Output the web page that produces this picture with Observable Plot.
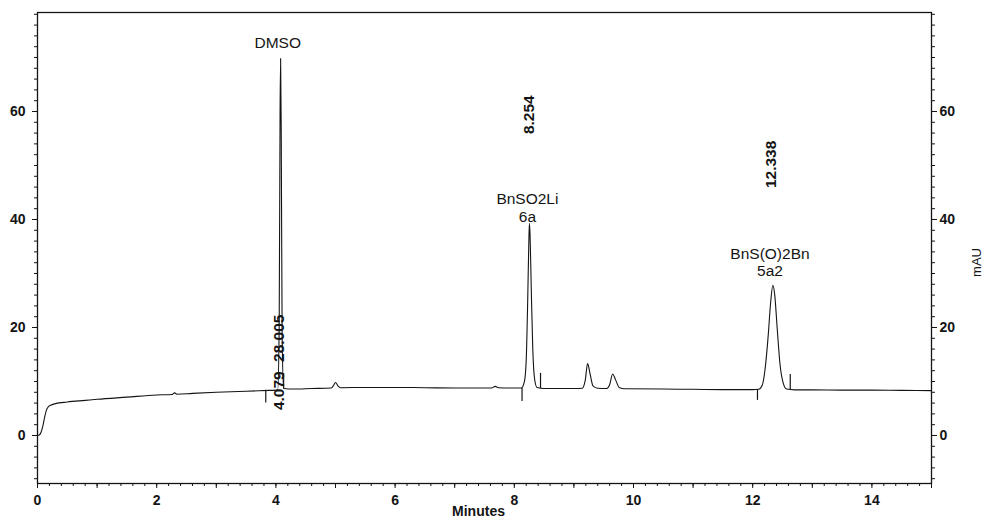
<!DOCTYPE html>
<html><head><meta charset="utf-8">
<script src="https://cdn.jsdelivr.net/npm/d3@7"></script>
<script src="https://cdn.jsdelivr.net/npm/@observablehq/plot@0.6"></script>
<style>
html,body{margin:0;padding:0;background:#fff;}
#chart{width:984px;height:521px;overflow:hidden;}
</style></head><body><div id="chart"></div>
<script>
// Chromatogram trace: time (min) and signal (mAU)
const traceTime = [0,0.03,0.06,0.09,0.12,0.15,0.18,0.22,0.3,0.5,0.8,1.0,1.5,2.0,2.26,2.3,2.34,2.6,3.0,3.5,3.9,
  4.03,4.055,4.07,4.079,4.09,4.105,4.13,4.3,4.6,4.93,4.97,5.0,5.04,5.08,5.5,6.0,6.5,7.0,7.62,7.68,7.73,8.0,
  8.12,8.17,8.2,8.225,8.245,8.254,8.265,8.285,8.31,8.34,8.38,8.5,9.0,9.14,9.19,9.23,9.27,9.32,9.4,9.55,9.6,9.65,9.7,9.76,9.85,
  10.5,11.0,11.5,12.0,12.1,12.16,12.21,12.26,12.30,12.338,12.37,12.41,12.46,12.51,12.57,12.7,13.0,13.5,14.0,14.5,15.0];
const traceMAU = [0.0,0.1,0.6,1.8,3.4,4.7,5.3,5.6,5.9,6.2,6.5,6.7,7.1,7.5,7.6,7.9,7.65,7.8,8.0,8.2,8.35,
  8.4,20,60,69.8,55,18,8.7,8.6,8.7,8.8,9.3,9.8,9.2,8.85,8.9,8.9,8.85,8.8,8.8,9.1,8.85,8.8,
  8.8,10.0,14,25,36.5,39.3,37,27,16,10.5,8.9,8.7,8.7,8.75,10.2,13.3,11.5,9.2,8.75,8.7,9.4,11.4,10.3,8.9,8.65,
  8.6,8.55,8.5,8.5,8.55,9.3,12.5,18.5,24.5,27.8,26,20,13,9.8,8.6,8.45,8.45,8.4,8.4,8.35,8.3];

// Integration start/end markers
const markTime = [3.83, 4.13, 8.13, 8.44, 12.08, 12.63];
const markFrom = [8.4, 8.6, 8.8, 8.7, 8.5, 8.45];
const markTo   = [6.0, 11.5, 6.3, 11.5, 6.5, 11.3];

// Retention-time labels (rotated)
const rtText = ["4.079", "28.005", "8.254", "12.338"];
const rtTime = [4.05, 4.06, 8.254, 12.30];
const rtY    = [8.3, 18.0, 59.4, 50.2];

// Compound labels
const nameText = ["DMSO", "BnSO2Li\n6a", "BnS(O)2Bn\n5a2"];
const nameTime = [4.03, 8.22, 12.29];
const nameY    = [72.8, 42.2, 32.17];

// Axis ticks
const xMajor = [0, 2, 4, 6, 8, 10, 12, 14];
const xMid = [1, 3, 5, 7, 9, 11, 13, 15];
const xMinor = d3.range(0, 76).map(i => i / 5);
const yMajor = [0, 20, 40, 60];
const yMinor = d3.range(-8, 79, 2);

const trace = traceTime.map((t, i) => ({t, v: traceMAU[i]}));
const marks = markTime.map((t, i) => ({t, y1: markFrom[i], y2: markTo[i]}));
const rts = rtText.map((s, i) => ({s, t: rtTime[i], y: rtY[i]}));
const names = nameText.map((s, i) => ({s, t: nameTime[i], y: nameY[i]}));

const ink = "#141414";
const chart = Plot.plot({
  width: 984, height: 521,
  marginLeft: 37, marginRight: 53, marginTop: 12, marginBottom: 38,
  style: {fontFamily: "'Liberation Sans', Arial, sans-serif", background: "#fff", color: ink},
  x: {domain: [0, 15]},
  y: {domain: [-8.89, 78.33]},
  marks: [
    Plot.frame({stroke: ink, strokeWidth: 1.3}),
    // left axis
    Plot.axisY(yMinor, {anchor: "left", tickSize: 3, tickFormat: () => "", label: null, stroke: ink}),
    Plot.axisY(yMajor, {anchor: "left", tickSize: 5, tickPadding: 7, label: null, stroke: ink,
      fontSize: 14, fontWeight: "bold"}),
    // right axis
    Plot.axisY(yMinor, {anchor: "right", tickSize: 3, tickFormat: () => "", label: null, stroke: ink}),
    Plot.axisY(yMajor, {anchor: "right", tickSize: 5, tickPadding: 3, label: null, stroke: ink,
      fontSize: 14, fontWeight: "bold"}),
    // bottom axis
    Plot.axisX(xMinor, {anchor: "bottom", tickSize: 3, tickFormat: () => "", label: null, stroke: ink}),
    Plot.axisX(xMid, {anchor: "bottom", tickSize: 5, tickFormat: () => "", label: null, stroke: ink}),
    Plot.axisX(xMajor, {anchor: "bottom", tickSize: 5, tickPadding: 7, label: null, stroke: ink,
      fontSize: 14, fontWeight: "bold"}),
    // trace
    Plot.line(trace, {x: "t", y: "v", curve: "monotone-x", stroke: ink, strokeWidth: 1.1}),
    // integration markers
    Plot.ruleX(marks, {x: "t", y1: "y1", y2: "y2", stroke: ink, strokeWidth: 1.2}),
    // retention time labels
    Plot.text(rts, {x: "t", y: "y", text: "s", rotate: -90, fontSize: 15.5, fontWeight: "bold", fill: ink}),
    // compound names
    Plot.text(names, {x: "t", y: "y", text: "s", fontSize: 15.5, lineHeight: 1.12, fill: ink, ariaLabel: "peak-name"}),
    // axis titles
    Plot.text(["Minutes"], {frameAnchor: "bottom", dx: -6, dy: 32, text: d => d, fontSize: 14, fontWeight: "bold", fill: ink}),
    Plot.text(["mAU"], {frameAnchor: "right", dx: 45, rotate: -90, text: d => d, fontSize: 13, fill: ink})
  ]
});
document.getElementById("chart").appendChild(chart);
d3.select(chart).selectAll('g[aria-label="peak-name"] text').style("letter-spacing", "1.7px");
</script>
</body></html>
